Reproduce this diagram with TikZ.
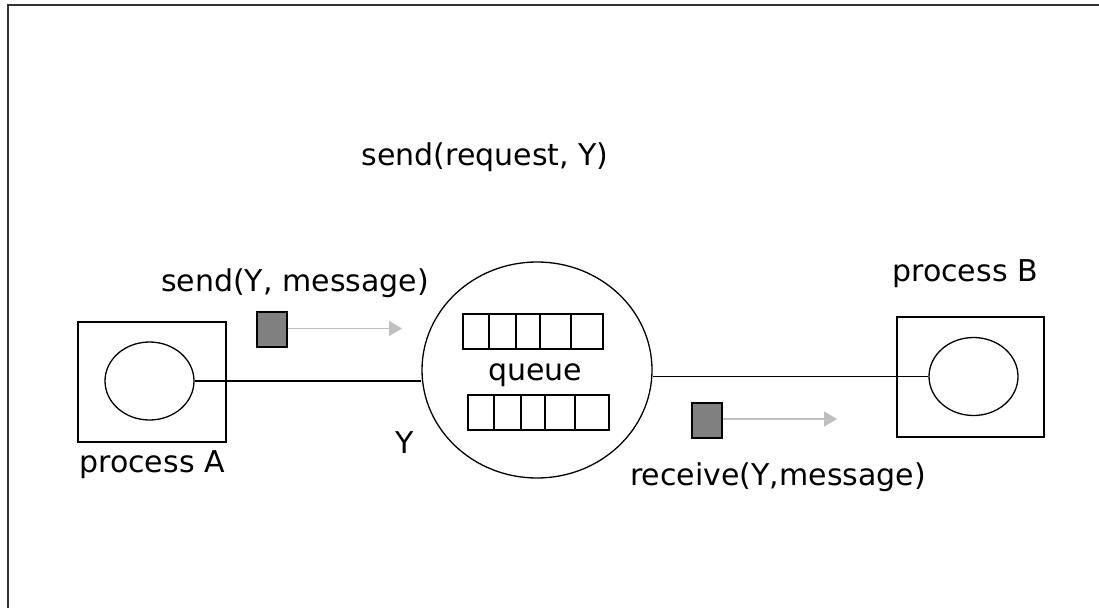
\documentclass[tikz,border=0pt]{standalone}
\usepackage{fontspec}
\setmainfont{DejaVu Sans}
\usetikzlibrary{arrows.meta,shapes.geometric}
\begin{document}
\begin{tikzpicture}[x=1pt,y=-1pt,
  lbl/.style={font=\fontsize{30}{36}\selectfont, inner sep=0pt, anchor=center},
  procbox/.style={draw, line width=1.3pt, minimum width=148pt, minimum height=120pt, inner sep=0pt},
  proc/.style={draw, ellipse, line width=1.3pt, minimum width=89pt, minimum height=78pt, inner sep=0pt},
  cell/.style={draw, line width=1.3pt, minimum height=35pt, inner sep=0pt},
  msg/.style={draw, line width=1.3pt, fill=black!50, minimum width=30pt, minimum height=35pt, inner sep=0pt},
  flow/.style={draw=black!25, line width=1.6pt, -{Triangle[length=13pt,width=15pt]}},
  link/.style={line width=1.3pt}
]
\useasboundingbox (0,0) rectangle (1099,607);
\fill[white] (0,0) rectangle (1099,607);
% open frame: only the top and left edges lie inside the page
\draw[line width=2pt, black!80] (8,640) -- (8,5) -- (1140,5);

% process A and process B
\node[procbox] (boxA) at (152,382) {};
\node[proc] (pa) at (149.5,381) {};
\node[procbox, minimum width=147pt] (boxB) at (970.5,377) {};
\node[proc] (pb) at (973.5,376.5) {};

% mailbox Y holding the queue
\node[draw, ellipse, line width=1.3pt, minimum width=230pt, minimum height=216pt, inner sep=0pt] (q) at (537,370) {};
\foreach \a/\b/\n in {463/489/1,489/516/2,516/540/3,540/571/4,571/603/5}
  \node[cell, minimum width={\b-\a}] (up\n) at ({(\a+\b)/2},331.5) {};
\foreach \a/\b/\n in {468/494/1,494/521/2,521/545/3,545/575/4,575/609/5}
  \node[cell, minimum width={\b-\a}] (lo\n) at ({(\a+\b)/2},412.5) {};
\node[lbl] (qlabel) at (535,375) {queue};

% links between the processes and the mailbox
\draw[link] (pa.east) -- (pa.east -| q.west);
\draw[link] (pb.west) -- (pb.west -| q.east);

% messages in transit
\node[msg] (m1) at (272,329.5) {};
\coordinate (m1end) at (402,328.5);
\draw[flow] (m1.east |- m1end) -- (m1end);
\node[msg] (m2) at (707,420.5) {};
\coordinate (m2end) at (837,419);
\draw[flow] (m2.east |- m2end) -- (m2end);

% labels
\node[lbl] (treq) at (485,157) {send(request, Y)};
\node[lbl] (tsend) at (295,283) {send(Y, message)};
\node[lbl] (tA) at (152,465) {process A};
\node[lbl] (tB) at (965,274) {process B};
\node[lbl] (tY) at (405,443) {Y};
\node[lbl] (trecv) at (778,477) {receive(Y,message)};
\end{tikzpicture}
\end{document}
